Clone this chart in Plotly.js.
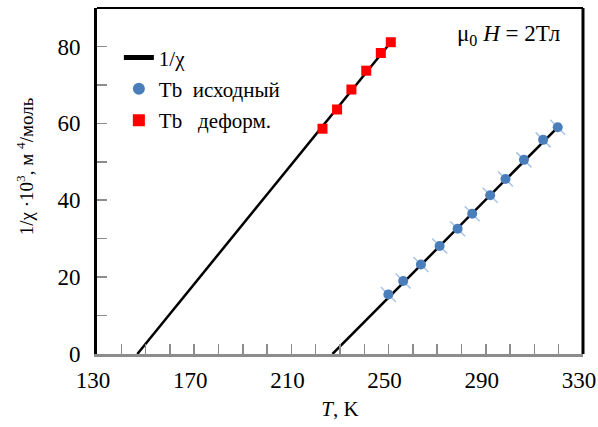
<!DOCTYPE html>
<html><head><meta charset="utf-8">
<script src="https://cdn.plot.ly/plotly-3.0.1.min.js"></script>
<style>html,body{margin:0;padding:0;background:#fff}#chart{width:598px;height:427px}</style>
</head><body><div id="chart"></div>
<script>
// Data
const tInitial = [249.9, 256.0, 263.3, 271.0, 278.4, 284.4, 291.8, 298.1, 305.7, 313.6, 319.6];
const invChiInitial = [15.5, 19.0, 23.3, 28.1, 32.6, 36.5, 41.3, 45.5, 50.5, 55.7, 59.0];
const tDeformed = [222.8, 228.8, 234.7, 240.8, 246.8, 250.9];
const invChiDeformed = [58.6, 63.6, 68.8, 73.7, 78.3, 81.1];
const fitDeformedT = [146.6, 250.9];
const fitDeformedY = [0, 81.1];
const fitInitialT = [226.9, 320.6];
const fitInitialY = [0, 59.6];
const xTickVals = [130, 170, 210, 250, 290, 330];
const yTickVals = [0, 20, 40, 60, 80];

const serif = '"Liberation Serif", "Times New Roman", serif';

const traces = [
  {x: fitDeformedT, y: fitDeformedY, mode: 'lines', name: '1/χ', legendgroup: 'fit',
   line: {color: '#000', width: 2.5}},
  {x: fitInitialT, y: fitInitialY, mode: 'lines', name: '1/χ', legendgroup: 'fit', showlegend: false,
   line: {color: '#000', width: 2.5}},
  {x: tInitial, y: invChiInitial, mode: 'markers', showlegend: false, legendgroup: 'init',
   marker: {symbol: 'line-nw-open', size: 15, color: '#a8c3e8', line: {color: '#a8c3e8', width: 1.5}}},
  {x: tInitial, y: invChiInitial, mode: 'markers', name: 'Tb  исходный', legendgroup: 'init',
   marker: {symbol: 'circle', size: 10, color: '#4a7ebb'}},
  {x: tDeformed, y: invChiDeformed, mode: 'markers', name: 'Tb   деформ.', legendgroup: 'def',
   marker: {symbol: 'square', size: 10, color: '#ff0000'}}
];

const layout = {
  width: 598, height: 427,
  margin: {l: 97, r: 15, t: 8, b: 73},
  paper_bgcolor: '#fff', plot_bgcolor: '#fff',
  font: {family: serif, size: 21, color: '#000'},
  showlegend: true,
  legend: {x: 0.045, y: 0.915, xanchor: 'left', yanchor: 'top', bgcolor: 'rgba(0,0,0,0)',
    font: {family: serif, size: 21}, traceorder: 'grouped', tracegroupgap: 1, itemsizing: 'constant'},
  xaxis: {
    range: [130, 330], tickvals: xTickVals, ticks: 'inside', ticklen: 10, tickwidth: 1.5,
    tickcolor: '#8c8c8c', showgrid: false, zeroline: false,
    showline: true, linecolor: '#8c8c8c', linewidth: 3,
    minor: {dtick: 10, tick0: 130, ticks: 'inside', ticklen: 10, tickwidth: 1.5, tickcolor: '#8c8c8c', showgrid: false},
    tickfont: {family: serif, size: 23}, ticklabelstandoff: 3, ticklabelshift: -4, ticklabeloverflow: 'allow',
    title: {text: '<i>T</i>, K', font: {family: serif, size: 21}, standoff: 10}
  },
  yaxis: {
    range: [0, 90], tickvals: yTickVals, ticks: 'inside', ticklen: 10, tickwidth: 1.5,
    tickcolor: '#8c8c8c', showgrid: false, zeroline: false,
    showline: true, linecolor: '#000', linewidth: 3,
    minor: {dtick: 10, tick0: 0, ticks: 'inside', ticklen: 10, tickwidth: 1.5, tickcolor: '#8c8c8c', showgrid: false},
    tickfont: {family: serif, size: 23}, ticklabelstandoff: 9, ticklabeloverflow: 'allow'
  },
  shapes: [
    {type: 'line', xref: 'paper', yref: 'paper', x0: 0, x1: 1, y0: 1, y1: 1, line: {color: '#000', width: 2}},
    {type: 'line', xref: 'paper', yref: 'paper', x0: 1, x1: 1, y0: 0, y1: 1, line: {color: '#000', width: 3}}
  ],
  annotations: [
    {xref: 'paper', yref: 'paper', x: 0.957, y: 0.922, xanchor: 'right', yanchor: 'middle', showarrow: false,
     text: 'μ<sub>0</sub> <i>H</i> = 2Тл', font: {family: serif, size: 23}},
    {xref: 'paper', yref: 'paper', x: -0.148, y: 0.543, xanchor: 'center', yanchor: 'middle', showarrow: false,
     textangle: -90, text: '1/χ ·10<sup>3</sup>, м <sup>4</sup>/моль', font: {family: serif, size: 19}}
  ]
};

Plotly.newPlot('chart', traces, layout, {displayModeBar: false, staticPlot: true});
</script></body></html>
